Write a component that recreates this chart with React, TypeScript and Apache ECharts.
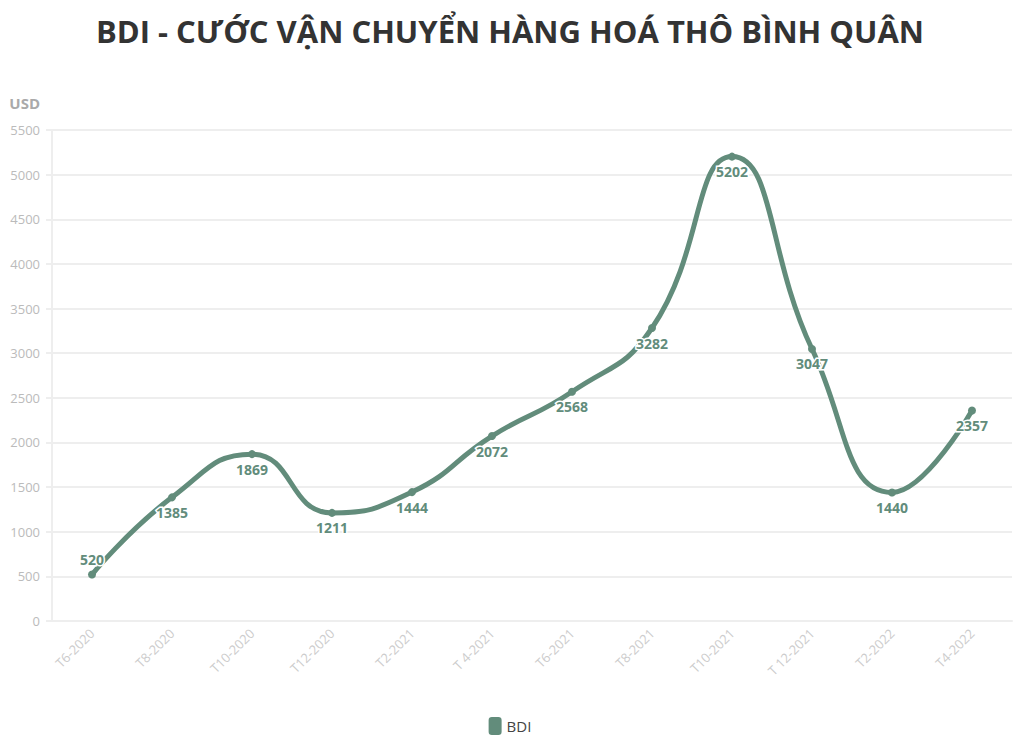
import React, { useEffect, useRef } from 'react';
import * as echarts from 'echarts';

const categories = [
  'T6-2020', 'T8-2020', 'T10-2020', 'T12-2020', 'T2-2021', 'T 4-2021',
  'T6-2021', 'T8-2021', 'T10-2021', 'T 12-2021', 'T2-2022', 'T4-2022',
];
const bdiValues = [520, 1385, 1869, 1211, 1444, 2072, 2568, 3282, 5202, 3047, 1440, 2357];

const LINE_COLOR = '#628c7b';

const App: React.FC = () => {
  const chartRef = useRef<HTMLDivElement | null>(null);

  useEffect(() => {
    if (!chartRef.current) return;
    const chart = echarts.init(chartRef.current, undefined, { renderer: 'svg' });

    chart.setOption({
      animation: false,
      backgroundColor: '#ffffff',
      title: {
        text: 'BDI - CƯỚC VẬN CHUYỂN HÀNG HOÁ THÔ BÌNH QUÂN',
        left: 'center',
        top: 10,
        textStyle: {
          fontFamily: 'Open Sans',
          fontWeight: 'bold',
          fontSize: 31,
          color: '#333333',
        },
      },
      legend: {
        bottom: 10,
        left: 'center',
        icon: 'roundRect',
        itemWidth: 13,
        itemHeight: 18,
        itemGap: 6,
        textStyle: { fontFamily: 'Open Sans', fontSize: 15, color: '#444444' },
        data: ['BDI'],
      },
      grid: { left: 52, right: 8, top: 130, bottom: 129 },
      xAxis: {
        type: 'category',
        data: categories,
        boundaryGap: true,
        axisLine: { lineStyle: { color: '#eeeeee', width: 2 } },
        axisTick: { alignWithLabel: true, lineStyle: { color: '#eeeeee', width: 2 }, length: 6 },
        axisLabel: {
          rotate: 45,
          color: '#cccccc',
          fontFamily: 'Open Sans',
          fontSize: 13,
          margin: 10,
        },
      },
      yAxis: {
        type: 'value',
        name: 'USD',
        nameLocation: 'end',
        nameGap: 20,
        nameTextStyle: {
          fontFamily: 'Open Sans',
          fontWeight: 'bold',
          fontSize: 15,
          color: '#aaaaaa',
          align: 'right',
          padding: [0, 12, 0, 0],
        },
        min: 0,
        max: 5500,
        interval: 500,
        axisLine: { show: true, lineStyle: { color: '#eeeeee', width: 2 } },
        axisTick: { show: true, lineStyle: { color: '#eeeeee', width: 2 }, length: 6 },
        axisLabel: {
          color: '#bbbbbb',
          fontFamily: 'Open Sans',
          fontSize: 13,
          margin: 12,
          formatter: (v: number) => String(v),
        },
        splitLine: { lineStyle: { color: '#eeeeee', width: 2 } },
      },
      series: [
        {
          name: 'BDI',
          type: 'line',
          data: bdiValues.map((v, i) => ({
            value: v,
            label: i === 0 ? { position: 'top' } : undefined,
          })),
          smooth: 0.5,
          symbol: 'circle',
          symbolSize: 8,
          lineStyle: { color: LINE_COLOR, width: 5 },
          itemStyle: { color: LINE_COLOR },
          label: {
            show: true,
            position: 'bottom',
            distance: 4,
            color: LINE_COLOR,
            fontFamily: 'Open Sans',
            fontWeight: 'bold',
            fontSize: 14,
            textBorderColor: '#ffffff',
            textBorderWidth: 3,
          },
        },
      ],
    });

    return () => {
      chart.dispose();
    };
  }, []);

  return (
    <div
      ref={chartRef}
      style={{ position: 'fixed', left: 0, top: 0, width: '1020px', height: '750px' }}
    ></div>
  );
};

export default App;
